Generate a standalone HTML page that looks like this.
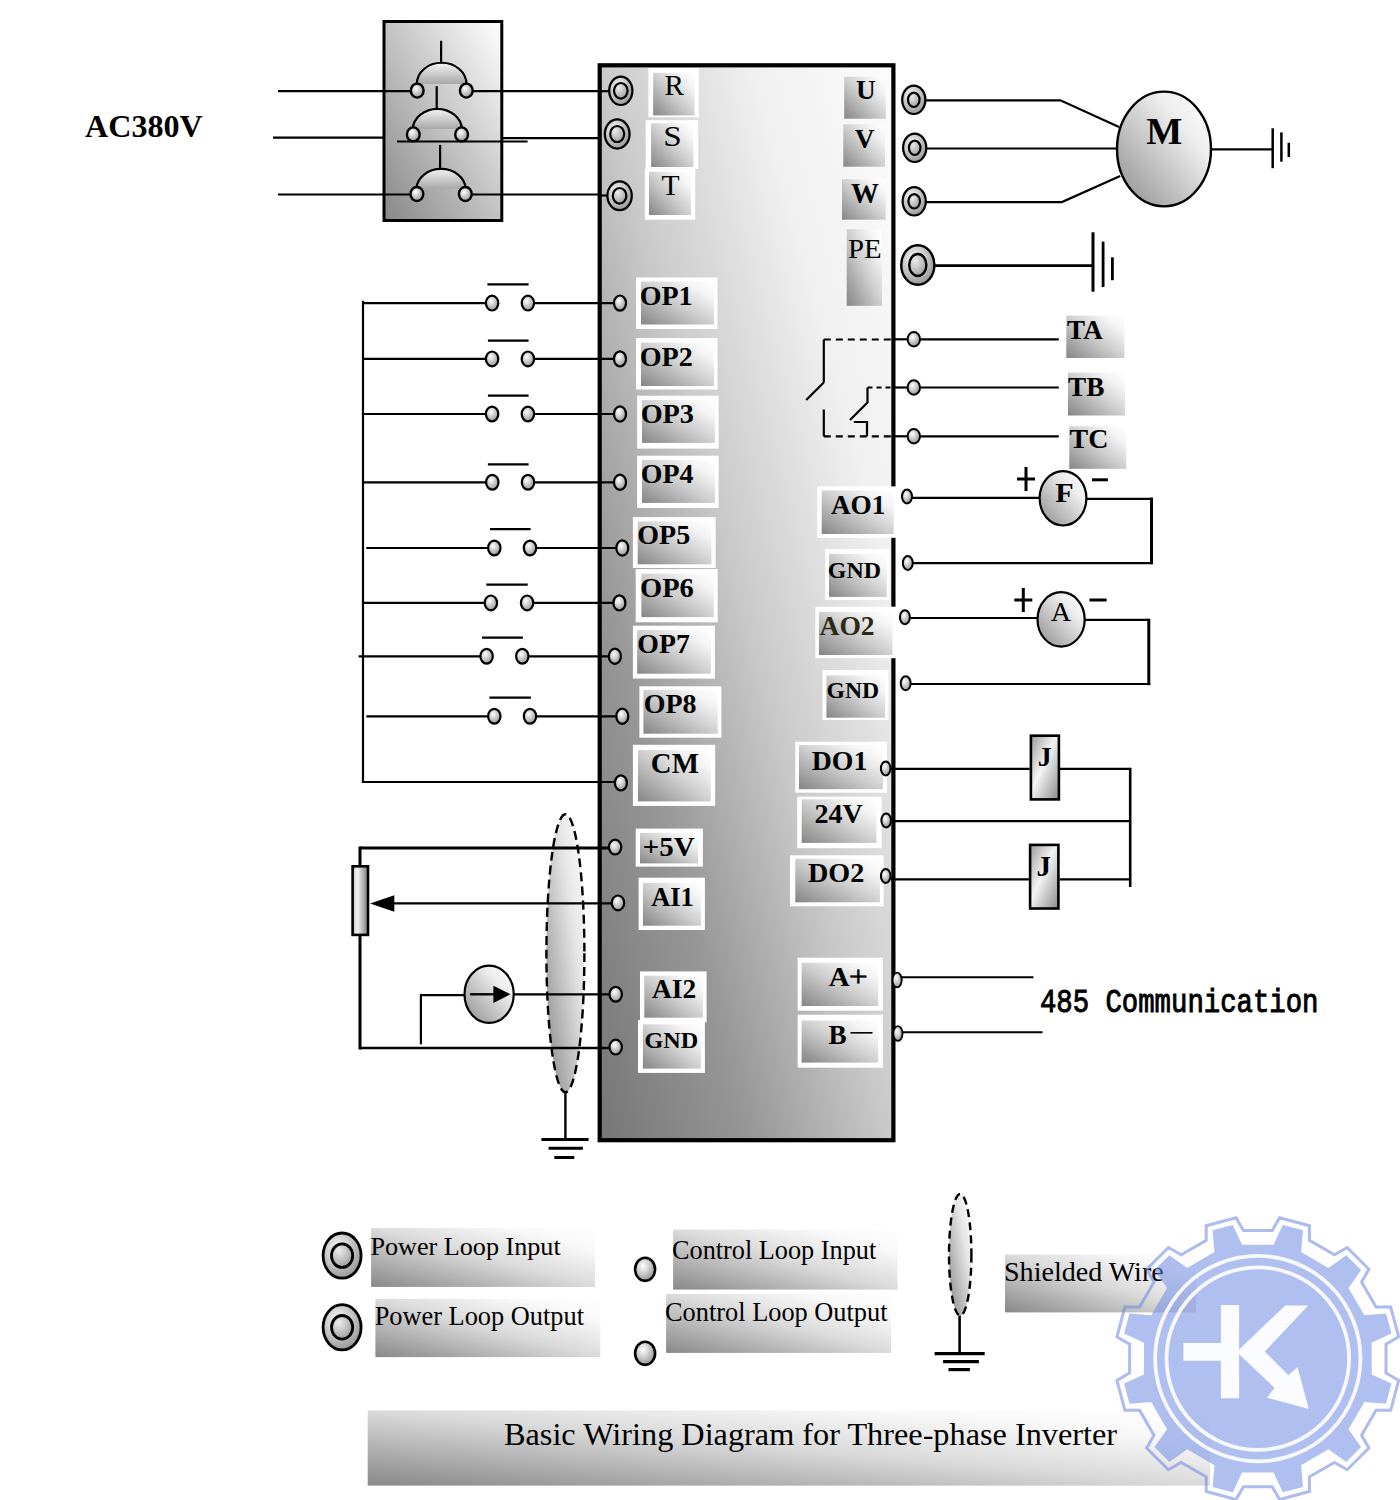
<!DOCTYPE html>
<html><head><meta charset="utf-8"><title>Basic Wiring Diagram</title>
<style>html,body{margin:0;padding:0;background:#fff;}svg{display:block;}</style>
</head><body>
<svg width="1400" height="1500" viewBox="0 0 1400 1500">

<defs>
 <linearGradient id="gMain" x1="1" y1="0" x2="0" y2="1">
  <stop offset="0" stop-color="#fcfcfc"/><stop offset="0.245" stop-color="#f0f0f0"/><stop offset="0.5" stop-color="#cacaca"/><stop offset="0.745" stop-color="#969696"/><stop offset="1" stop-color="#767676"/>
 </linearGradient>
 <linearGradient id="gL" x1="1" y1="0" x2="0" y2="1">
  <stop offset="0" stop-color="#ffffff"/><stop offset="0.2" stop-color="#f4f4f4"/><stop offset="0.5" stop-color="#cfcfcf"/><stop offset="1" stop-color="#858585"/>
 </linearGradient>
 <linearGradient id="gLeg" x1="1" y1="0" x2="0" y2="1">
  <stop offset="0" stop-color="#ffffff"/><stop offset="0.2" stop-color="#f8f8f8"/><stop offset="0.5" stop-color="#dadada"/><stop offset="1" stop-color="#888888"/>
 </linearGradient>
 <linearGradient id="gBrk" x1="1" y1="0" x2="0" y2="1">
  <stop offset="0" stop-color="#ffffff"/><stop offset="1" stop-color="#888888"/>
 </linearGradient>
 <radialGradient id="gT" cx="0.4" cy="0.35" r="0.75">
  <stop offset="0" stop-color="#ffffff"/><stop offset="1" stop-color="#8a8a8a"/>
 </radialGradient>
 <radialGradient id="gT2" cx="0.35" cy="0.3" r="0.8">
  <stop offset="0" stop-color="#ececec"/><stop offset="1" stop-color="#999999"/>
 </radialGradient>
 <linearGradient id="gM" x1="1" y1="0" x2="0" y2="1">
  <stop offset="0" stop-color="#ffffff"/><stop offset="0.3" stop-color="#eeeeee"/><stop offset="1" stop-color="#8c8c8c"/>
 </linearGradient>
 <linearGradient id="gCap" x1="0" y1="0" x2="0" y2="1">
  <stop offset="0" stop-color="#f4f4f4"/><stop offset="1" stop-color="#a8a8a8"/>
 </linearGradient>
 <linearGradient id="gShield" x1="1" y1="0" x2="0" y2="1">
  <stop offset="0" stop-color="#ffffff"/><stop offset="0.35" stop-color="#e6e6e6"/><stop offset="1" stop-color="#8a8a8a"/>
 </linearGradient>
 <linearGradient id="gPot" x1="0" y1="0" x2="1" y2="0">
  <stop offset="0" stop-color="#bdbdbd"/><stop offset="0.3" stop-color="#f4f4f4"/><stop offset="1" stop-color="#7a7a7a"/>
 </linearGradient>
 <linearGradient id="gJ" x1="0" y1="0" x2="1" y2="1">
  <stop offset="0" stop-color="#9a9a9a"/><stop offset="0.45" stop-color="#f4f4f4"/><stop offset="1" stop-color="#8a8a8a"/>
 </linearGradient>
</defs>

<rect width="1400" height="1500" fill="#fff"/>
<text transform="translate(85.08,137.40) scale(1.0000,1.0000)" font-family="'Liberation Serif', serif" font-weight="bold" font-size="32.07" fill="#000" >AC380V</text>
<rect x="384.0" y="21.5" width="117.8" height="199.0" fill="url(#gBrk)" stroke="#000" stroke-width="3" />
<line x1="278.0" y1="91.2" x2="412.0" y2="91.2" stroke="#000" stroke-width="2.2" />
<line x1="273.0" y1="137.6" x2="384.0" y2="137.6" stroke="#000" stroke-width="2.2" />
<line x1="278.0" y1="194.5" x2="411.0" y2="194.5" stroke="#000" stroke-width="2.2" />
<path d="M416.8,84.0 A24.8,21.2 0 0 1 466.5,84.0 Z" fill="url(#gCap)" stroke="none"/>
<path d="M416.8,90.6 L416.8,84.0 A24.8,21.2 0 0 1 466.5,84.0 L466.5,90.6" fill="none" stroke="#000" stroke-width="2.2"/>
<line x1="441.1" y1="40.8" x2="441.1" y2="63.3" stroke="#000" stroke-width="2.2" />
<ellipse cx="417.2" cy="90.6" rx="6.4" ry="7.0" fill="url(#gT)" stroke="#000" stroke-width="2.4" />
<ellipse cx="466.3" cy="90.6" rx="6.4" ry="7.0" fill="url(#gT)" stroke="#000" stroke-width="2.4" />
<path d="M412.7,129.0 A24.7,21.5 0 0 1 462.0,129.0 Z" fill="url(#gCap)" stroke="none"/>
<path d="M412.7,134.4 L412.7,129.0 A24.7,21.5 0 0 1 462.0,129.0 L462.0,134.4" fill="none" stroke="#000" stroke-width="2.2"/>
<line x1="436.7" y1="86.2" x2="436.7" y2="108.0" stroke="#000" stroke-width="2.2" />
<ellipse cx="413.3" cy="134.4" rx="6.4" ry="7.0" fill="url(#gT)" stroke="#000" stroke-width="2.4" />
<ellipse cx="461.6" cy="134.4" rx="6.4" ry="7.0" fill="url(#gT)" stroke="#000" stroke-width="2.4" />
<path d="M416.3,188.5 A24.8,21.0 0 0 1 465.8,188.5 Z" fill="url(#gCap)" stroke="none"/>
<path d="M416.3,194.0 L416.3,188.5 A24.8,21.0 0 0 1 465.8,188.5 L465.8,194.0" fill="none" stroke="#000" stroke-width="2.2"/>
<line x1="440.1" y1="144.9" x2="440.1" y2="168.0" stroke="#000" stroke-width="2.2" />
<ellipse cx="416.9" cy="194.0" rx="6.4" ry="7.0" fill="url(#gT)" stroke="#000" stroke-width="2.4" />
<ellipse cx="465.3" cy="194.0" rx="6.4" ry="7.0" fill="url(#gT)" stroke="#000" stroke-width="2.4" />
<line x1="397.0" y1="141.6" x2="527.6" y2="141.6" stroke="#000" stroke-width="2.0" />
<line x1="472.0" y1="91.2" x2="606.0" y2="91.2" stroke="#000" stroke-width="2.2" />
<line x1="501.8" y1="138.1" x2="600.0" y2="138.1" stroke="#000" stroke-width="2.2" />
<line x1="471.0" y1="194.5" x2="606.0" y2="194.5" stroke="#000" stroke-width="2.2" />
<rect x="599.7" y="65.3" width="293.7" height="1074.9" fill="url(#gMain)" stroke="#000" stroke-width="4.2" />
<line x1="599.0" y1="91.2" x2="610.0" y2="91.2" stroke="#000" stroke-width="2.2" />
<line x1="599.0" y1="195.5" x2="609.0" y2="195.5" stroke="#000" stroke-width="2.2" />
<ellipse cx="620.8" cy="90.8" rx="11.6" ry="14.2" fill="url(#gT)" stroke="#000" stroke-width="2.2" />
<ellipse cx="620.8" cy="90.8" rx="6.8" ry="7.8" fill="url(#gT2)" stroke="#000" stroke-width="2.2" />
<ellipse cx="617.2" cy="134.0" rx="12.4" ry="14.6" fill="url(#gT)" stroke="#000" stroke-width="2.2" />
<ellipse cx="617.2" cy="134.0" rx="7.0" ry="8.0" fill="url(#gT2)" stroke="#000" stroke-width="2.2" />
<ellipse cx="619.6" cy="195.8" rx="12.2" ry="14.4" fill="url(#gT)" stroke="#000" stroke-width="2.2" />
<ellipse cx="619.6" cy="195.8" rx="6.8" ry="7.8" fill="url(#gT2)" stroke="#000" stroke-width="2.2" />
<rect x="648.4" y="68.0" width="50.4" height="49.2" fill="#fff" stroke="none" stroke-width="0" />
<rect x="653.2" y="72.8" width="41.4" height="42.6" fill="url(#gL)" stroke="none" stroke-width="0" />
<text transform="translate(664.40,95.00) scale(1.0135,1.0000)" font-family="'Liberation Serif', serif" font-weight="normal" font-size="28.79" fill="#000" >R</text>
<rect x="645.7" y="120.2" width="52.5" height="48.6" fill="#fff" stroke="none" stroke-width="0" />
<rect x="651.1" y="123.2" width="42.3" height="43.8" fill="url(#gL)" stroke="none" stroke-width="0" />
<text transform="translate(663.16,145.70) scale(1.1001,1.0000)" font-family="'Liberation Serif', serif" font-weight="normal" font-size="30.19" fill="#000" >S</text>
<rect x="644.8" y="168.8" width="50.4" height="50.9" fill="#fff" stroke="none" stroke-width="0" />
<rect x="649.0" y="171.8" width="42.0" height="43.2" fill="url(#gL)" stroke="none" stroke-width="0" />
<text transform="translate(661.38,194.60) scale(1.0209,1.0000)" font-family="'Liberation Serif', serif" font-weight="normal" font-size="29.00" fill="#000" >T</text>
<rect x="844.2" y="76.7" width="41.6" height="42.0" fill="url(#gL)" stroke="none" stroke-width="0" />
<text transform="translate(856.02,99.20) scale(0.9841,1.0000)" font-family="'Liberation Serif', serif" font-weight="bold" font-size="27.65" fill="#000" >U</text>
<rect x="843.3" y="124.2" width="41.7" height="42.5" fill="url(#gL)" stroke="none" stroke-width="0" />
<text transform="translate(854.73,147.50) scale(0.9908,1.0000)" font-family="'Liberation Serif', serif" font-weight="bold" font-size="27.68" fill="#000" >V</text>
<rect x="842.0" y="179.2" width="43.8" height="40.5" fill="url(#gL)" stroke="none" stroke-width="0" />
<text transform="translate(850.88,202.50) scale(0.9741,1.0000)" font-family="'Liberation Serif', serif" font-weight="bold" font-size="28.57" fill="#000" >W</text>
<rect x="846.7" y="229.2" width="35.3" height="76.6" fill="url(#gL)" stroke="none" stroke-width="0" />
<text transform="translate(847.91,258.30) scale(1.0149,1.0000)" font-family="'Liberation Serif', serif" font-weight="normal" font-size="28.36" fill="#000" >PE</text>
<rect x="636.0" y="277.5" width="81.5" height="51.5" fill="#fff" stroke="none" stroke-width="0" />
<rect x="641.0" y="281.5" width="73.0" height="43.0" fill="url(#gL)" stroke="none" stroke-width="0" />
<text transform="translate(639.67,304.80) scale(0.9982,1.0000)" font-family="'Liberation Serif', serif" font-weight="bold" font-size="28.02" fill="#000" >OP1</text>
<rect x="636.0" y="338.0" width="81.5" height="51.5" fill="#fff" stroke="none" stroke-width="0" />
<rect x="641.0" y="342.5" width="73.0" height="43.5" fill="url(#gL)" stroke="none" stroke-width="0" />
<text transform="translate(639.67,366.00) scale(1.0003,1.0000)" font-family="'Liberation Serif', serif" font-weight="bold" font-size="28.09" fill="#000" >OP2</text>
<rect x="637.1" y="395.7" width="81.5" height="52.9" fill="#fff" stroke="none" stroke-width="0" />
<rect x="642.0" y="400.0" width="72.9" height="42.9" fill="url(#gL)" stroke="none" stroke-width="0" />
<text transform="translate(640.66,423.40) scale(1.0022,1.0000)" font-family="'Liberation Serif', serif" font-weight="bold" font-size="28.14" fill="#000" >OP3</text>
<rect x="637.1" y="455.7" width="81.5" height="52.3" fill="#fff" stroke="none" stroke-width="0" />
<rect x="642.0" y="460.0" width="72.9" height="42.9" fill="url(#gL)" stroke="none" stroke-width="0" />
<text transform="translate(640.67,483.40) scale(0.9974,1.0000)" font-family="'Liberation Serif', serif" font-weight="bold" font-size="28.00" fill="#000" >OP4</text>
<rect x="632.9" y="517.1" width="82.8" height="50.9" fill="#fff" stroke="none" stroke-width="0" />
<rect x="637.7" y="521.4" width="73.7" height="42.9" fill="url(#gL)" stroke="none" stroke-width="0" />
<text transform="translate(637.27,544.30) scale(0.9990,1.0000)" font-family="'Liberation Serif', serif" font-weight="bold" font-size="28.05" fill="#000" >OP5</text>
<rect x="635.7" y="569.1" width="82.0" height="53.2" fill="#fff" stroke="none" stroke-width="0" />
<rect x="641.4" y="573.7" width="72.3" height="43.4" fill="url(#gL)" stroke="none" stroke-width="0" />
<text transform="translate(640.05,597.10) scale(1.0067,1.0000)" font-family="'Liberation Serif', serif" font-weight="bold" font-size="28.26" fill="#000" >OP6</text>
<rect x="632.9" y="625.7" width="82.0" height="52.9" fill="#fff" stroke="none" stroke-width="0" />
<rect x="637.1" y="630.0" width="73.8" height="43.7" fill="url(#gL)" stroke="none" stroke-width="0" />
<text transform="translate(637.28,653.40) scale(0.9955,1.0000)" font-family="'Liberation Serif', serif" font-weight="bold" font-size="27.95" fill="#000" >OP7</text>
<rect x="639.4" y="686.3" width="82.0" height="51.4" fill="#fff" stroke="none" stroke-width="0" />
<rect x="643.4" y="690.0" width="74.3" height="43.7" fill="url(#gL)" stroke="none" stroke-width="0" />
<text transform="translate(643.77,712.90) scale(1.0004,1.0000)" font-family="'Liberation Serif', serif" font-weight="bold" font-size="27.98" fill="#000" >OP8</text>
<rect x="632.9" y="744.8" width="82.3" height="61.1" fill="#fff" stroke="none" stroke-width="0" />
<rect x="638.0" y="750.0" width="72.7" height="51.4" fill="url(#gL)" stroke="none" stroke-width="0" />
<text transform="translate(650.83,773.40) scale(1.0139,1.0000)" font-family="'Liberation Serif', serif" font-weight="bold" font-size="28.47" fill="#000" >CM</text>
<rect x="635.7" y="828.6" width="67.2" height="38.0" fill="#fff" stroke="none" stroke-width="0" />
<rect x="640.0" y="832.9" width="58.0" height="30.5" fill="url(#gL)" stroke="none" stroke-width="0" />
<text transform="translate(642.78,855.70) scale(1.0515,1.0000)" font-family="'Liberation Serif', serif" font-weight="bold" font-size="27.53" fill="#000" >+5V</text>
<rect x="638.6" y="877.7" width="66.3" height="52.3" fill="#fff" stroke="none" stroke-width="0" />
<rect x="642.9" y="882.9" width="58.0" height="42.8" fill="url(#gL)" stroke="none" stroke-width="0" />
<text transform="translate(651.14,906.30) scale(0.9919,1.0000)" font-family="'Liberation Serif', serif" font-weight="bold" font-size="26.60" fill="#000" >AI1</text>
<rect x="640.0" y="971.4" width="66.6" height="50.9" fill="#fff" stroke="none" stroke-width="0" />
<rect x="644.3" y="975.7" width="58.6" height="42.0" fill="url(#gL)" stroke="none" stroke-width="0" />
<text transform="translate(652.03,997.70) scale(1.0305,1.0000)" font-family="'Liberation Serif', serif" font-weight="bold" font-size="26.62" fill="#000" >AI2</text>
<rect x="638.0" y="1020.0" width="66.9" height="52.9" fill="#fff" stroke="none" stroke-width="0" />
<rect x="642.9" y="1024.3" width="58.0" height="44.3" fill="url(#gL)" stroke="none" stroke-width="0" />
<text transform="translate(644.55,1048.00) scale(1.0297,1.0000)" font-family="'Liberation Serif', serif" font-weight="bold" font-size="23.49" fill="#000" >GND</text>
<rect x="1062.0" y="311.0" width="68.0" height="51.0" fill="#fff" stroke="none" stroke-width="0" />
<rect x="1066.3" y="315.5" width="58.2" height="42.5" fill="url(#gL)" stroke="none" stroke-width="0" />
<text transform="translate(1067.09,338.75) scale(0.9760,1.0000)" font-family="'Liberation Serif', serif" font-weight="bold" font-size="27.74" fill="#000" >TA</text>
<rect x="1064.0" y="368.0" width="67.0" height="51.0" fill="#fff" stroke="none" stroke-width="0" />
<rect x="1068.0" y="372.5" width="57.0" height="43.0" fill="url(#gL)" stroke="none" stroke-width="0" />
<text transform="translate(1068.09,395.50) scale(0.9962,1.0000)" font-family="'Liberation Serif', serif" font-weight="bold" font-size="27.38" fill="#000" >TB</text>
<rect x="1065.0" y="422.0" width="67.0" height="51.0" fill="#fff" stroke="none" stroke-width="0" />
<rect x="1069.3" y="426.3" width="57.0" height="42.5" fill="url(#gL)" stroke="none" stroke-width="0" />
<text transform="translate(1069.58,448.00) scale(1.0280,1.0000)" font-family="'Liberation Serif', serif" font-weight="bold" font-size="27.18" fill="#000" >TC</text>
<rect x="817.2" y="486.4" width="79.3" height="51.4" fill="#fff" stroke="none" stroke-width="0" />
<rect x="821.7" y="490.4" width="72.1" height="43.6" fill="url(#gL)" stroke="none" stroke-width="0" />
<text transform="translate(830.93,514.20) scale(0.9878,1.0000)" font-family="'Liberation Serif', serif" font-weight="bold" font-size="27.59" fill="#000" >AO1</text>
<rect x="825.1" y="549.0" width="64.2" height="51.0" fill="#fff" stroke="none" stroke-width="0" />
<rect x="829.0" y="553.8" width="57.7" height="43.1" fill="url(#gL)" stroke="none" stroke-width="0" />
<text transform="translate(827.86,577.60) scale(0.9980,1.0000)" font-family="'Liberation Serif', serif" font-weight="bold" font-size="23.95" fill="#000" >GND</text>
<rect x="815.3" y="606.7" width="80.7" height="51.5" fill="#fff" stroke="none" stroke-width="0" />
<rect x="819.0" y="612.0" width="73.5" height="43.0" fill="url(#gL)" stroke="none" stroke-width="0" />
<text transform="translate(819.52,635.00) scale(1.0130,1.0000)" font-family="'Liberation Serif', serif" font-weight="bold" font-size="27.22" fill="#2b2b14" >AO2</text>
<rect x="822.5" y="670.0" width="66.0" height="50.0" fill="#fff" stroke="none" stroke-width="0" />
<rect x="826.4" y="675.4" width="58.7" height="42.3" fill="url(#gL)" stroke="none" stroke-width="0" />
<text transform="translate(826.58,697.80) scale(0.9962,1.0000)" font-family="'Liberation Serif', serif" font-weight="bold" font-size="23.76" fill="#000" >GND</text>
<rect x="795.3" y="741.7" width="91.7" height="51.0" fill="#fff" stroke="none" stroke-width="0" />
<rect x="799.0" y="745.1" width="84.0" height="44.1" fill="url(#gL)" stroke="none" stroke-width="0" />
<text transform="translate(811.71,769.70) scale(0.9982,1.0000)" font-family="'Liberation Serif', serif" font-weight="bold" font-size="27.87" fill="#000" >DO1</text>
<rect x="797.2" y="796.6" width="84.5" height="51.6" fill="#fff" stroke="none" stroke-width="0" />
<rect x="801.7" y="799.3" width="74.8" height="43.6" fill="url(#gL)" stroke="none" stroke-width="0" />
<text transform="translate(814.51,823.10) scale(1.0025,1.0000)" font-family="'Liberation Serif', serif" font-weight="bold" font-size="28.00" fill="#000" >24V</text>
<rect x="790.0" y="855.3" width="93.6" height="51.0" fill="#fff" stroke="none" stroke-width="0" />
<rect x="795.3" y="858.7" width="84.6" height="43.6" fill="url(#gL)" stroke="none" stroke-width="0" />
<text transform="translate(808.01,881.70) scale(1.0269,1.0000)" font-family="'Liberation Serif', serif" font-weight="bold" font-size="27.46" fill="#000" >DO2</text>
<rect x="797.7" y="957.7" width="85.3" height="53.0" fill="#fff" stroke="none" stroke-width="0" />
<rect x="801.6" y="962.8" width="76.6" height="43.2" fill="url(#gL)" stroke="none" stroke-width="0" />
<text transform="translate(828.81,986.40) scale(1.0611,1.0000)" font-family="'Liberation Serif', serif" font-weight="bold" font-size="27.27" fill="#000" >A</text>
<text transform="translate(848.81,986.00) scale(1.1821,1.0000)" font-family="'Liberation Serif', serif" font-weight="normal" font-size="28.56" fill="#000" stroke="#000" stroke-width="0.5">+</text>
<rect x="797.7" y="1014.7" width="85.3" height="53.0" fill="#fff" stroke="none" stroke-width="0" />
<rect x="801.6" y="1020.5" width="76.6" height="42.1" fill="url(#gL)" stroke="none" stroke-width="0" />
<text transform="translate(828.62,1044.10) scale(0.9829,1.0000)" font-family="'Liberation Serif', serif" font-weight="bold" font-size="27.62" fill="#000" >B</text>
<rect x="850.5" y="1032.0" width="22" height="1.6" fill="#000"/>
<ellipse cx="913.8" cy="99.8" rx="11.6" ry="14.2" fill="url(#gT)" stroke="#000" stroke-width="2.2" />
<ellipse cx="913.8" cy="99.8" rx="5.8" ry="7.2" fill="url(#gT2)" stroke="#000" stroke-width="2.2" />
<ellipse cx="914.7" cy="147.8" rx="11.6" ry="14.2" fill="url(#gT)" stroke="#000" stroke-width="2.2" />
<ellipse cx="914.7" cy="147.8" rx="5.8" ry="7.2" fill="url(#gT2)" stroke="#000" stroke-width="2.2" />
<ellipse cx="914.2" cy="201.3" rx="11.6" ry="14.2" fill="url(#gT)" stroke="#000" stroke-width="2.2" />
<ellipse cx="914.2" cy="201.3" rx="5.8" ry="7.2" fill="url(#gT2)" stroke="#000" stroke-width="2.2" />
<ellipse cx="917.8" cy="265.0" rx="16.6" ry="19.8" fill="url(#gT)" stroke="#000" stroke-width="2.4" />
<ellipse cx="917.8" cy="265.0" rx="8.6" ry="11.0" fill="url(#gT2)" stroke="#000" stroke-width="2.4" />
<polyline points="925.8,100.3 1060.4,100.3 1119.0,127.0" fill="none" stroke="#000" stroke-width="2.2" />
<line x1="926.3" y1="148.5" x2="1116.0" y2="148.5" stroke="#000" stroke-width="2.2" />
<polyline points="925.8,202.1 1061.9,202.1 1120.2,176.0" fill="none" stroke="#000" stroke-width="2.2" />
<line x1="935.0" y1="265.6" x2="1093.0" y2="265.6" stroke="#000" stroke-width="2.8" />
<line x1="1093.0" y1="232.3" x2="1093.0" y2="291.7" stroke="#000" stroke-width="3.0" />
<line x1="1103.1" y1="241.6" x2="1103.1" y2="287.0" stroke="#000" stroke-width="2.8" />
<line x1="1112.4" y1="257.3" x2="1112.4" y2="280.2" stroke="#000" stroke-width="2.8" />
<ellipse cx="1164.0" cy="149.0" rx="47.0" ry="57.4" fill="url(#gM)" stroke="#000" stroke-width="2.4" />
<text transform="translate(1146.13,144.10) scale(0.9810,1.0000)" font-family="'Liberation Serif', serif" font-weight="bold" font-size="38.96" fill="#000" >M</text>
<line x1="1212.0" y1="149.3" x2="1272.0" y2="149.3" stroke="#000" stroke-width="2.2" />
<line x1="1272.7" y1="128.3" x2="1272.7" y2="168.2" stroke="#000" stroke-width="2.5" />
<line x1="1281.4" y1="132.4" x2="1281.4" y2="161.7" stroke="#000" stroke-width="2.5" />
<line x1="1288.8" y1="142.8" x2="1288.8" y2="157.1" stroke="#000" stroke-width="2.5" />
<line x1="920.5" y1="339.3" x2="1058.8" y2="339.3" stroke="#000" stroke-width="2.2" />
<line x1="893.0" y1="339.3" x2="908.0" y2="339.3" stroke="#000" stroke-width="2.2" />
<ellipse cx="913.8" cy="339.3" rx="6.2" ry="7.2" fill="url(#gT)" stroke="#000" stroke-width="2.0" />
<line x1="920.5" y1="387.5" x2="1058.8" y2="387.5" stroke="#000" stroke-width="2.2" />
<line x1="893.0" y1="387.5" x2="908.0" y2="387.5" stroke="#000" stroke-width="2.2" />
<ellipse cx="913.8" cy="387.5" rx="6.2" ry="7.2" fill="url(#gT)" stroke="#000" stroke-width="2.0" />
<line x1="920.5" y1="436.3" x2="1058.8" y2="436.3" stroke="#000" stroke-width="2.2" />
<line x1="893.0" y1="436.3" x2="908.0" y2="436.3" stroke="#000" stroke-width="2.2" />
<ellipse cx="913.8" cy="436.3" rx="6.2" ry="7.2" fill="url(#gT)" stroke="#000" stroke-width="2.0" />
<line x1="823.8" y1="339.5" x2="891.0" y2="339.5" stroke="#000" stroke-width="2.2" stroke-dasharray="7,5"/>
<line x1="823.8" y1="339.5" x2="823.8" y2="382.5" stroke="#000" stroke-width="2.2" />
<line x1="823.8" y1="382.5" x2="806.2" y2="400.0" stroke="#000" stroke-width="2.2" />
<line x1="823.8" y1="409.5" x2="823.8" y2="436.3" stroke="#000" stroke-width="2.2" />
<line x1="823.8" y1="436.3" x2="891.0" y2="436.3" stroke="#000" stroke-width="2.2" stroke-dasharray="7,5"/>
<line x1="867.5" y1="387.5" x2="891.0" y2="387.5" stroke="#000" stroke-width="2.2" stroke-dasharray="5,4"/>
<polyline points="850.0,420.0 867.5,402.5 867.5,387.5" fill="none" stroke="#000" stroke-width="2.2" />
<polyline points="853.8,422.0 867.0,422.0 867.0,436.3" fill="none" stroke="#000" stroke-width="2.2" />
<ellipse cx="907.0" cy="496.5" rx="5.0" ry="7.0" fill="url(#gT)" stroke="#000" stroke-width="2.0" />
<ellipse cx="907.8" cy="563.0" rx="5.0" ry="7.0" fill="url(#gT)" stroke="#000" stroke-width="2.0" />
<ellipse cx="904.9" cy="617.2" rx="5.0" ry="7.0" fill="url(#gT)" stroke="#000" stroke-width="2.0" />
<ellipse cx="905.7" cy="683.3" rx="5.0" ry="7.0" fill="url(#gT)" stroke="#000" stroke-width="2.0" />
<line x1="912.0" y1="497.8" x2="1039.2" y2="497.8" stroke="#000" stroke-width="2.2" />
<ellipse cx="1063.0" cy="498.3" rx="23.4" ry="27.2" fill="url(#gM)" stroke="#000" stroke-width="2.2" />
<text transform="translate(1055.27,502.30) scale(1.0680,1.0000)" font-family="'Liberation Serif', serif" font-weight="bold" font-size="28.18" fill="#000" >F</text>
<line x1="1087.0" y1="498.8" x2="1151.5" y2="498.8" stroke="#000" stroke-width="2.2" />
<line x1="1151.5" y1="497.6" x2="1151.5" y2="564.2" stroke="#000" stroke-width="3" />
<line x1="913.0" y1="563.2" x2="1152.8" y2="563.2" stroke="#000" stroke-width="2.2" />
<line x1="1017.0" y1="479.0" x2="1035.0" y2="479.0" stroke="#000" stroke-width="3" />
<line x1="1026.0" y1="467.0" x2="1026.0" y2="491.0" stroke="#000" stroke-width="3" />
<line x1="1092.0" y1="479.8" x2="1107.9" y2="479.8" stroke="#000" stroke-width="3" />
<line x1="910.0" y1="618.0" x2="1037.0" y2="618.0" stroke="#000" stroke-width="2.2" />
<ellipse cx="1061.1" cy="619.4" rx="23.6" ry="27.2" fill="url(#gM)" stroke="#000" stroke-width="2.2" />
<text transform="translate(1050.72,621.20) scale(1.0399,1.0000)" font-family="'Liberation Serif', serif" font-weight="normal" font-size="27.14" fill="#000" >A</text>
<line x1="1085.0" y1="619.9" x2="1148.8" y2="619.9" stroke="#000" stroke-width="2.2" />
<line x1="1148.8" y1="618.7" x2="1148.8" y2="685.2" stroke="#000" stroke-width="3" />
<line x1="911.0" y1="684.0" x2="1150.3" y2="684.0" stroke="#000" stroke-width="2.2" />
<line x1="1014.3" y1="600.0" x2="1032.3" y2="600.0" stroke="#000" stroke-width="3" />
<line x1="1023.3" y1="588.0" x2="1023.3" y2="612.0" stroke="#000" stroke-width="3" />
<line x1="1089.4" y1="600.0" x2="1106.6" y2="600.0" stroke="#000" stroke-width="3" />
<ellipse cx="885.7" cy="768.4" rx="4.8" ry="7.0" fill="url(#gT)" stroke="#000" stroke-width="2.0" />
<ellipse cx="886.2" cy="820.4" rx="4.8" ry="7.0" fill="url(#gT)" stroke="#000" stroke-width="2.0" />
<ellipse cx="885.7" cy="875.9" rx="4.8" ry="7.0" fill="url(#gT)" stroke="#000" stroke-width="2.0" />
<line x1="891.0" y1="768.9" x2="1029.7" y2="768.9" stroke="#000" stroke-width="2.2" />
<rect x="1030.9" y="735.7" width="28.0" height="63.7" fill="url(#gJ)" stroke="#000" stroke-width="2.6" />
<text transform="translate(1037.75,766.20) scale(0.9927,1.0000)" font-family="'Liberation Serif', serif" font-weight="bold" font-size="28.04" fill="#000" >J</text>
<line x1="1060.0" y1="768.9" x2="1130.2" y2="768.9" stroke="#000" stroke-width="2.2" />
<line x1="1130.2" y1="767.8" x2="1130.2" y2="887.0" stroke="#000" stroke-width="2.6" />
<line x1="891.0" y1="821.2" x2="1130.2" y2="821.2" stroke="#000" stroke-width="2.2" />
<line x1="891.0" y1="879.4" x2="1028.9" y2="879.4" stroke="#000" stroke-width="2.2" />
<rect x="1030.1" y="844.9" width="28.3" height="63.6" fill="url(#gJ)" stroke="#000" stroke-width="2.6" />
<text transform="translate(1036.39,875.90) scale(1.0133,1.0000)" font-family="'Liberation Serif', serif" font-weight="bold" font-size="28.63" fill="#000" >J</text>
<line x1="1059.6" y1="879.4" x2="1130.2" y2="879.4" stroke="#000" stroke-width="2.2" />
<ellipse cx="897.1" cy="980.0" rx="4.6" ry="7.4" fill="url(#gT)" stroke="#000" stroke-width="1.8" />
<ellipse cx="897.9" cy="1033.5" rx="4.6" ry="7.4" fill="url(#gT)" stroke="#000" stroke-width="1.8" />
<line x1="902.0" y1="977.3" x2="1033.4" y2="977.3" stroke="#000" stroke-width="2.0" />
<line x1="902.0" y1="1032.3" x2="1042.5" y2="1032.3" stroke="#000" stroke-width="2.0" />
<text transform="translate(1039.93,1011.90) scale(1.0000,1.2073)" font-family="'Liberation Mono', monospace" font-weight="normal" font-size="27.32" fill="#000" stroke="#000" stroke-width="0.8">485 Communication</text>
<line x1="363.0" y1="300.7" x2="363.0" y2="783.0" stroke="#000" stroke-width="2.2" />
<line x1="363.0" y1="303.1" x2="486.1" y2="303.1" stroke="#000" stroke-width="2.2" />
<line x1="533.9" y1="303.1" x2="614.0" y2="303.1" stroke="#000" stroke-width="2.2" />
<line x1="487.4" y1="284.3" x2="528.6" y2="284.3" stroke="#000" stroke-width="2.2" />
<ellipse cx="492.1" cy="303.1" rx="6.2" ry="7.4" fill="url(#gT)" stroke="#000" stroke-width="2.2" />
<ellipse cx="527.9" cy="303.1" rx="6.2" ry="7.4" fill="url(#gT)" stroke="#000" stroke-width="2.2" />
<ellipse cx="620.0" cy="303.1" rx="6.0" ry="7.6" fill="url(#gT)" stroke="#000" stroke-width="2.2" />
<line x1="363.0" y1="358.9" x2="486.1" y2="358.9" stroke="#000" stroke-width="2.2" />
<line x1="533.9" y1="358.9" x2="614.0" y2="358.9" stroke="#000" stroke-width="2.2" />
<line x1="487.9" y1="340.7" x2="528.6" y2="340.7" stroke="#000" stroke-width="2.2" />
<ellipse cx="492.1" cy="358.9" rx="6.2" ry="7.4" fill="url(#gT)" stroke="#000" stroke-width="2.2" />
<ellipse cx="527.9" cy="358.9" rx="6.2" ry="7.4" fill="url(#gT)" stroke="#000" stroke-width="2.2" />
<ellipse cx="620.0" cy="358.9" rx="6.0" ry="7.6" fill="url(#gT)" stroke="#000" stroke-width="2.2" />
<line x1="363.0" y1="414.0" x2="486.1" y2="414.0" stroke="#000" stroke-width="2.2" />
<line x1="533.9" y1="414.0" x2="614.0" y2="414.0" stroke="#000" stroke-width="2.2" />
<line x1="487.9" y1="395.7" x2="528.6" y2="395.7" stroke="#000" stroke-width="2.2" />
<ellipse cx="492.1" cy="414.0" rx="6.2" ry="7.4" fill="url(#gT)" stroke="#000" stroke-width="2.2" />
<ellipse cx="527.9" cy="414.0" rx="6.2" ry="7.4" fill="url(#gT)" stroke="#000" stroke-width="2.2" />
<ellipse cx="620.0" cy="414.0" rx="6.0" ry="7.6" fill="url(#gT)" stroke="#000" stroke-width="2.2" />
<line x1="363.0" y1="482.3" x2="486.3" y2="482.3" stroke="#000" stroke-width="2.2" />
<line x1="534.0" y1="482.3" x2="614.0" y2="482.3" stroke="#000" stroke-width="2.2" />
<line x1="487.9" y1="464.3" x2="528.6" y2="464.3" stroke="#000" stroke-width="2.2" />
<ellipse cx="492.3" cy="482.3" rx="6.2" ry="7.4" fill="url(#gT)" stroke="#000" stroke-width="2.2" />
<ellipse cx="528.0" cy="482.3" rx="6.2" ry="7.4" fill="url(#gT)" stroke="#000" stroke-width="2.2" />
<ellipse cx="620.0" cy="482.3" rx="6.0" ry="7.6" fill="url(#gT)" stroke="#000" stroke-width="2.2" />
<line x1="366.3" y1="548.0" x2="488.3" y2="548.0" stroke="#000" stroke-width="2.2" />
<line x1="536.0" y1="548.0" x2="616.3" y2="548.0" stroke="#000" stroke-width="2.2" />
<line x1="490.0" y1="529.2" x2="530.6" y2="529.2" stroke="#000" stroke-width="2.2" />
<ellipse cx="494.3" cy="548.0" rx="6.2" ry="7.4" fill="url(#gT)" stroke="#000" stroke-width="2.2" />
<ellipse cx="530.0" cy="548.0" rx="6.2" ry="7.4" fill="url(#gT)" stroke="#000" stroke-width="2.2" />
<ellipse cx="622.3" cy="548.0" rx="6.0" ry="7.6" fill="url(#gT)" stroke="#000" stroke-width="2.2" />
<line x1="363.0" y1="602.9" x2="484.9" y2="602.9" stroke="#000" stroke-width="2.2" />
<line x1="533.1" y1="602.9" x2="613.4" y2="602.9" stroke="#000" stroke-width="2.2" />
<line x1="486.3" y1="584.6" x2="527.7" y2="584.6" stroke="#000" stroke-width="2.2" />
<ellipse cx="490.9" cy="602.9" rx="6.2" ry="7.4" fill="url(#gT)" stroke="#000" stroke-width="2.2" />
<ellipse cx="527.1" cy="602.9" rx="6.2" ry="7.4" fill="url(#gT)" stroke="#000" stroke-width="2.2" />
<ellipse cx="619.4" cy="602.9" rx="6.0" ry="7.6" fill="url(#gT)" stroke="#000" stroke-width="2.2" />
<line x1="358.6" y1="656.3" x2="480.6" y2="656.3" stroke="#000" stroke-width="2.2" />
<line x1="528.3" y1="656.3" x2="608.9" y2="656.3" stroke="#000" stroke-width="2.2" />
<line x1="482.0" y1="637.7" x2="522.9" y2="637.7" stroke="#000" stroke-width="2.2" />
<ellipse cx="486.6" cy="656.3" rx="6.2" ry="7.4" fill="url(#gT)" stroke="#000" stroke-width="2.2" />
<ellipse cx="522.3" cy="656.3" rx="6.2" ry="7.4" fill="url(#gT)" stroke="#000" stroke-width="2.2" />
<ellipse cx="614.9" cy="656.3" rx="6.0" ry="7.6" fill="url(#gT)" stroke="#000" stroke-width="2.2" />
<line x1="366.3" y1="716.3" x2="488.3" y2="716.3" stroke="#000" stroke-width="2.2" />
<line x1="536.0" y1="716.3" x2="616.3" y2="716.3" stroke="#000" stroke-width="2.2" />
<line x1="489.4" y1="697.7" x2="530.9" y2="697.7" stroke="#000" stroke-width="2.2" />
<ellipse cx="494.3" cy="716.3" rx="6.2" ry="7.4" fill="url(#gT)" stroke="#000" stroke-width="2.2" />
<ellipse cx="530.0" cy="716.3" rx="6.2" ry="7.4" fill="url(#gT)" stroke="#000" stroke-width="2.2" />
<ellipse cx="622.3" cy="716.3" rx="6.0" ry="7.6" fill="url(#gT)" stroke="#000" stroke-width="2.2" />
<line x1="362.3" y1="782.0" x2="614.0" y2="782.0" stroke="#000" stroke-width="2.2" />
<ellipse cx="620.9" cy="782.9" rx="6.0" ry="7.6" fill="url(#gT)" stroke="#000" stroke-width="2.2" />
<ellipse cx="565.4" cy="953.3" rx="19.0" ry="139.0" fill="url(#gShield)" stroke="#000" stroke-width="2.4" stroke-dasharray="9,5"/>
<line x1="360.0" y1="848.0" x2="609.0" y2="848.0" stroke="#000" stroke-width="3.0" />
<line x1="360.0" y1="846.5" x2="360.0" y2="866.3" stroke="#000" stroke-width="3.0" />
<rect x="352.6" y="866.3" width="15.4" height="68.6" fill="url(#gPot)" stroke="#000" stroke-width="2.6" />
<line x1="360.0" y1="934.9" x2="360.0" y2="1049.5" stroke="#000" stroke-width="3.0" />
<polygon points="370.0,903.4 394.3,895.2 394.3,911.8" fill="#000"/>
<line x1="392.0" y1="903.4" x2="612.0" y2="903.4" stroke="#000" stroke-width="2.4" />
<line x1="360.0" y1="1048.0" x2="610.0" y2="1048.0" stroke="#000" stroke-width="2.4" />
<ellipse cx="489.1" cy="994.3" rx="24.6" ry="28.6" fill="url(#gM)" stroke="#000" stroke-width="2.2" />
<line x1="470.0" y1="994.3" x2="496.0" y2="994.3" stroke="#000" stroke-width="2.4" />
<polygon points="510.5,994.3 493.4,985.7 493.4,1002.9" fill="#000"/>
<line x1="420.9" y1="995.1" x2="464.5" y2="995.1" stroke="#000" stroke-width="2.2" />
<line x1="420.9" y1="994.0" x2="420.9" y2="1044.3" stroke="#000" stroke-width="2.2" />
<line x1="513.7" y1="994.3" x2="610.0" y2="994.3" stroke="#000" stroke-width="2.2" />
<ellipse cx="615.1" cy="847.1" rx="6.2" ry="7.4" fill="url(#gT)" stroke="#000" stroke-width="2.2" />
<ellipse cx="618.0" cy="902.9" rx="6.2" ry="7.4" fill="url(#gT)" stroke="#000" stroke-width="2.2" />
<ellipse cx="615.7" cy="994.3" rx="6.2" ry="7.4" fill="url(#gT)" stroke="#000" stroke-width="2.2" />
<ellipse cx="615.7" cy="1047.1" rx="6.2" ry="7.4" fill="url(#gT)" stroke="#000" stroke-width="2.2" />
<line x1="565.4" y1="1092.3" x2="565.4" y2="1139.4" stroke="#000" stroke-width="2.4" />
<line x1="541.4" y1="1139.4" x2="588.6" y2="1139.4" stroke="#000" stroke-width="3.0" />
<line x1="548.6" y1="1148.2" x2="582.9" y2="1148.2" stroke="#000" stroke-width="3.0" />
<line x1="554.3" y1="1157.5" x2="574.3" y2="1157.5" stroke="#000" stroke-width="3.0" />
<ellipse cx="342.1" cy="1255.6" rx="19.0" ry="22.6" fill="url(#gT)" stroke="#000" stroke-width="2.8" />
<ellipse cx="342.1" cy="1255.6" rx="10.6" ry="11.8" fill="url(#gT2)" stroke="#000" stroke-width="2.8" />
<ellipse cx="342.1" cy="1327.3" rx="19.0" ry="22.6" fill="url(#gT)" stroke="#000" stroke-width="2.8" />
<ellipse cx="342.1" cy="1327.3" rx="10.6" ry="11.8" fill="url(#gT2)" stroke="#000" stroke-width="2.8" />
<rect x="371.1" y="1228.1" width="223.9" height="58.8" fill="url(#gLeg)" stroke="none" stroke-width="0" />
<text transform="translate(370.38,1255.40) scale(1.0000,1.0000)" font-family="'Liberation Serif', serif" font-weight="normal" font-size="26.17" fill="#000" >Power Loop Input</text>
<rect x="375.4" y="1298.9" width="224.9" height="58.2" fill="url(#gLeg)" stroke="none" stroke-width="0" />
<text transform="translate(374.68,1325.40) scale(1.0000,1.0000)" font-family="'Liberation Serif', serif" font-weight="normal" font-size="26.35" fill="#000" >Power Loop Output</text>
<ellipse cx="645.1" cy="1269.3" rx="10.0" ry="11.6" fill="url(#gT)" stroke="#000" stroke-width="2.6" />
<ellipse cx="645.1" cy="1353.3" rx="10.0" ry="11.6" fill="url(#gT)" stroke="#000" stroke-width="2.6" />
<rect x="673.1" y="1229.6" width="224.4" height="60.0" fill="url(#gLeg)" stroke="none" stroke-width="0" />
<text transform="translate(672.05,1259.00) scale(1.0000,1.0000)" font-family="'Liberation Serif', serif" font-weight="normal" font-size="26.25" fill="#000" >Control Loop Input</text>
<rect x="666.1" y="1293.9" width="225.0" height="59.0" fill="url(#gLeg)" stroke="none" stroke-width="0" />
<text transform="translate(665.05,1320.70) scale(1.0000,1.0000)" font-family="'Liberation Serif', serif" font-weight="normal" font-size="26.35" fill="#000" >Control Loop Output</text>
<ellipse cx="960.2" cy="1254.8" rx="11.2" ry="60.8" fill="url(#gShield)" stroke="#000" stroke-width="2.4" stroke-dasharray="8,5"/>
<line x1="959.6" y1="1315.6" x2="959.6" y2="1353.6" stroke="#000" stroke-width="2.6" />
<line x1="934.6" y1="1353.6" x2="984.7" y2="1353.6" stroke="#000" stroke-width="3.2" />
<line x1="943.1" y1="1361.7" x2="978.9" y2="1361.7" stroke="#000" stroke-width="3.2" />
<line x1="948.5" y1="1369.6" x2="969.9" y2="1369.6" stroke="#000" stroke-width="3.2" />
<rect x="1005.0" y="1254.5" width="191.0" height="57.9" fill="url(#gLeg)" stroke="none" stroke-width="0" />
<text transform="translate(1004.01,1281.10) scale(1.0000,1.0000)" font-family="'Liberation Serif', serif" font-weight="normal" font-size="28.07" fill="#000" >Shielded Wire</text>
<rect x="367.7" y="1410.4" width="842.3" height="75.2" fill="url(#gLeg)" stroke="none" stroke-width="0" />
<text transform="translate(504.01,1444.80) scale(1.0000,1.0000)" font-family="'Liberation Serif', serif" font-weight="normal" font-size="32.28" fill="#000" >Basic Wiring Diagram for Three-phase Inverter</text>
<g opacity="0.55">
<polygon points="1272.2,1230.4 1279.6,1217.7 1309.4,1225.7 1309.4,1240.4 1334.4,1254.8 1347.2,1247.5 1368.9,1269.2 1361.6,1282.0 1376.0,1307.0 1390.7,1307.0 1398.7,1336.8 1386.0,1344.2 1386.0,1373.0 1398.7,1380.4 1390.7,1410.2 1376.0,1410.2 1361.6,1435.2 1368.9,1448.0 1347.2,1469.7 1334.4,1462.4 1309.4,1476.8 1309.4,1491.5 1279.6,1499.5 1272.2,1486.8 1243.4,1486.8 1236.0,1499.5 1206.2,1491.5 1206.2,1476.8 1181.2,1462.4 1168.4,1469.7 1146.7,1448.0 1154.0,1435.2 1139.6,1410.2 1124.9,1410.2 1116.9,1380.4 1129.6,1373.0 1129.6,1344.2 1116.9,1336.8 1124.9,1307.0 1139.6,1307.0 1154.0,1282.0 1146.7,1269.2 1168.4,1247.5 1181.2,1254.8 1206.2,1240.4 1206.2,1225.7 1236.0,1217.7 1243.4,1230.4" fill="none" stroke="#6b86e0" stroke-width="3"/>
<polygon points="1273.6,1244.7 1282.8,1224.9 1303.0,1230.3 1301.1,1252.0 1328.4,1267.9 1346.3,1255.3 1361.1,1270.1 1348.5,1288.0 1364.4,1315.3 1386.1,1313.4 1391.5,1333.6 1371.7,1342.8 1371.7,1374.4 1391.5,1383.6 1386.1,1403.8 1364.4,1401.9 1348.5,1429.2 1361.1,1447.1 1346.3,1461.9 1328.4,1449.3 1301.1,1465.2 1303.0,1486.9 1282.8,1492.3 1273.6,1472.5 1242.0,1472.5 1232.8,1492.3 1212.6,1486.9 1214.5,1465.2 1187.2,1449.3 1169.3,1461.9 1154.5,1447.1 1167.1,1429.2 1151.2,1401.9 1129.5,1403.8 1124.1,1383.6 1143.9,1374.4 1143.9,1342.8 1124.1,1333.6 1129.5,1313.4 1151.2,1315.3 1167.1,1288.0 1154.5,1270.1 1169.3,1255.3 1187.2,1267.9 1214.5,1252.0 1212.6,1230.3 1232.8,1224.9 1242.0,1244.7" fill="#6f8ce4"/>
</g>
<circle cx="1257.8" cy="1358.6" r="102.7" fill="none" stroke="#fff" stroke-width="3.8" opacity="0.9"/>
<circle cx="1257.8" cy="1358.6" r="91.3" fill="none" stroke="#fff" stroke-width="3.8" opacity="0.9"/>
<polygon points="1220.9,1305.0 1239.1,1305.0 1239.1,1349.5 1285.2,1305.5 1308.2,1305.5 1264.8,1351.6 1288.4,1375.2 1297.5,1367.1 1308.8,1408.9 1267.0,1397.7 1274.5,1388.0 1239.1,1354.3 1239.1,1398.2 1220.9,1398.2 1220.9,1360.7 1183.4,1360.7 1183.4,1343.0 1220.9,1343.0" fill="#fff" opacity="0.95"/>
</svg>
</body></html>
